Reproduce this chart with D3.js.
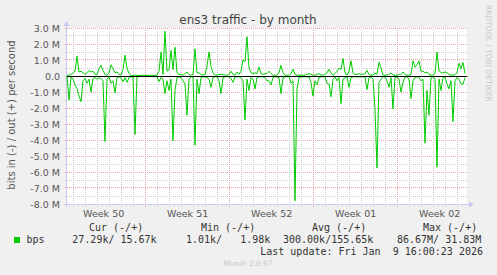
<!DOCTYPE html>
<html lang="en">
<head>
<meta charset="UTF-8">
<script src="https://d3js.org/d3.v7.min.js"></script>
<style>
  body { margin: 0; background: #f0f0f0; }
  svg text { font-family: "DejaVu Sans", sans-serif; }
  svg text.mono { font-family: "DejaVu Sans Mono", monospace; white-space: pre; }
</style>
</head>
<body>
<div id="chart"></div>
<script>
// traffic in Mbit/s, one sample every 4 hours
const outValues = [
  0.05, 0.05, 0.1, 0.2, 0.3, 1.25, 0.25, 0.3, 0.2, 0.1, 0.2, 0.35, 0.25, 0.3, 0.1, 0.1, 0.45, 0.67, 0.35, 0.1,
  0.05, 0.2, 0.7, 0.45, 0.2, 0.25, 0.1, 0.05, 0.4, 1.3, 0.5, 0.15, 0.04, 0.03, 0.05, 0.04, 0.03, 0.04, 0.05, 0.03,
  0.04, 0.03, 0.05, 0.04, 0.03, 0.05, 0.3, 1.5, 0.1, 2.8, 0.3, 0.4, 1.6, 0.4, 1.8, 0.2, 0.1, 0.1, 0.05, 0.15,
  0.25, 0.1, 0.05, 0.1, 1.7, 0.2, 0.2, 0.1, 0.05, 0.1, 0.6, 1.5, 0.6, 0.2, 0.05, 0.05, 0.1, 0.1, 0.1, 0.05,
  0.05, 0.1, 0.3, 0.1, 0.05, 0.25, 0.1, 0.3, 1.0, 0.9, 2.45, 0.5, 0.2, 0.15, 0.2, 0.15, 0.56, 0.15, 0.1, 0.15,
  0.15, 0.3, 0.15, 0.05, 0.05, 0.05, 0.2, 0.67, 0.2, 0.05, 0.05, 0.05, 0.15, 0.42, 0.1, 0.05, 0.05, 0.05, 0.05, 0.05,
  0.1, 0.15, 0.1, 0.05, 0.05, 0.1, 0.15, 0.05, 0.05, 0.1, 0.2, 0.42, 0.2, 0.05, 0.15, 0.3, 0.5, 0.4, 1.1, 0.2,
  0.05, 0.3, 0.95, 0.2, 0.1, 0.1, 0.15, 0.1, 0.1, 0.15, 0.35, 0.1, 0.05, 0.05, 0.2, 0.1, 0.85, 0.5, 0.05, 0.05,
  0.05, 0.1, 0.2, 0.05, 0.05, 0.05, 0.1, 0.1, 0.25, 0.1, 0.05, 0.05, 0.1, 0.95, 0.55, 0.7, 0.95, 0.3, 0.3, 0.2,
  0.25, 0.1, 0.05, 0.05, 0.15, 1.5, 0.35, 0.2, 0.2, 0.25, 0.2, 0.1, 0.05, 0.05, 0.1, 0.2, 0.8, 0.45, 0.85, 0.15
];
const inValues = [
  0, -1.5, -0.05, -0.2, -0.55, -0.8, -1.25, -1.6, -0.3, -0.15, -0.45, -0.2, -1.0, -0.15, -0.1, -0.2, -0.1, -0.15, -0.3, -4.1,
  -0.2, -0.05, -0.45, -0.3, -1.05, -0.1, -0.05, -0.1, -0.35, -0.1, -0.4, -0.1, -0.05, -0.05, -3.65, -0.05, -0.03, -0.04, -0.03, -0.03,
  -0.04, -0.03, -0.03, -0.04, -0.03, -0.03, -0.35, -0.1, -0.2, -1.1, -0.3, -0.9, -0.2, -4.05, -0.9, -0.1, -0.05, -0.1, -0.3, -0.5,
  -2.45, -0.2, -0.05, -0.05, -4.33, -0.2, -1.1, -0.1, -0.05, -0.05, -0.1, -0.2, -0.7, -0.1, -0.05, -0.05, -0.3, -1.1, -0.1, -0.05,
  -0.05, -0.05, -0.15, -0.4, -0.05, -0.05, -0.05, -0.1, -0.3, -2.75, -0.2, -0.9, -0.1, -0.2, -0.8, -0.1, -0.05, -0.05, -0.05, -0.1,
  -0.3, -0.3, -0.55, -0.1, -0.05, -0.05, -0.1, -1.1, -0.1, -0.05, -0.05, -0.05, -0.45, -0.3, -7.8, -0.8, -0.1, -0.05, -0.05, -0.05,
  -0.05, -0.05, -0.4, -1.25, -0.3, -0.55, -0.1, -0.05, -0.05, -0.05, -0.45, -0.5, -1.3, -0.2, -0.05, -0.3, -0.1, -1.73, -0.2, -0.1,
  -0.05, -0.7, -0.1, -0.05, -0.05, -0.05, -0.05, -0.05, -0.05, -0.05, -0.85, -0.1, -0.05, -0.2, -2.1, -5.75, -0.4, -0.2, -0.05, -0.05,
  -0.3, -0.7, -0.1, -2.05, -0.1, -0.05, -0.2, -1.0, -0.4, -0.05, -0.05, -0.2, -1.4, -0.3, -0.1, -0.05, -0.1, -0.3, -0.2, -4.2,
  -0.9, -2.45, -0.1, -0.05, -0.2, -5.7, -0.2, -0.9, -0.1, -0.05, -0.5, -0.8, -0.3, -2.85, -0.3, -0.1, -0.2, -0.5, -0.5, -0.1
];

const yTickValues = [-8, -7, -6, -5, -4, -3, -2, -1, 0, 1, 2, 3];
const weekLabels = ["Week 50", "Week 51", "Week 52", "Week 01", "Week 02"];
const weekStarts = ["2025-12-07", "2025-12-14", "2025-12-21", "2025-12-28", "2026-01-04"];

const legendHeaders = ["Cur (-/+)", "Min (-/+)", "Avg (-/+)", "Max (-/+)"];
const legendValues = ["27.29k/ 15.67k", "1.01k/   1.98k", "300.00k/155.65k", "86.67M/ 31.83M"];
const lastUpdate = "Last update: Fri Jan  9 16:00:23 2026";

const W = 497, H = 275;
const plot = { left: 67, right: 467, top: 28, bottom: 204 };

const endTime = new Date(Date.UTC(2026, 0, 9, 18, 40));
const startTime = new Date(endTime.getTime() - 400 / 12 * 864e5);
const sampleTimes = outValues.map((d, i) => d3.utcHour.offset(startTime, 4 * i));

const x = d3.scaleUtc().domain([startTime, endTime]).range([plot.left, plot.right]);
const y = d3.scaleLinear().domain([-8, 3]).range([plot.bottom, plot.top]);
const px = v => Math.floor(v) + 0.5;

const svg = d3.select('#chart').append('svg')
    .attr('width', W)
    .attr('height', H);

svg.append('rect').attr('width', W).attr('height', H).attr('fill', '#f0f0f0');
svg.append('rect')
    .attr('x', plot.left).attr('y', plot.top)
    .attr('width', plot.right - plot.left).attr('height', plot.bottom - plot.top)
    .attr('fill', '#ffffff');

// horizontal grid: minor every 0.5 M, major every 1 M
const minorY = d3.range(-7.5, 3, 1);
svg.selectAll('.hminor').data(minorY).enter().append('line')
    .attr('x1', plot.left - 2).attr('x2', plot.right + 1)
    .attr('y1', d => px(y(d))).attr('y2', d => px(y(d)))
    .attr('stroke', '#cfcfcf').attr('stroke-dasharray', '1,1');
svg.selectAll('.hmajor').data(yTickValues).enter().append('line')
    .attr('x1', plot.left - 2).attr('x2', plot.right + 1)
    .attr('y1', d => px(y(d))).attr('y2', d => px(y(d)))
    .attr('stroke', '#e4a8a8').attr('stroke-dasharray', '1,1');

// vertical grid: days and weeks
const days = d3.utcDay.range(startTime, endTime);
const weekLines = weekStarts.slice(1).map(d => new Date(d + 'T00:00:00Z'));
svg.selectAll('.vminor').data(days).enter().append('line')
    .attr('x1', d => px(x(d))).attr('x2', d => px(x(d)))
    .attr('y1', plot.top).attr('y2', plot.bottom + 3)
    .attr('stroke', '#cfcfcf').attr('stroke-dasharray', '1,1');
svg.selectAll('.vmajor').data(weekLines).enter().append('line')
    .attr('x1', d => px(x(d))).attr('x2', d => px(x(d)))
    .attr('y1', plot.top).attr('y2', plot.bottom + 3)
    .attr('stroke', '#e4a8a8').attr('stroke-dasharray', '1,1');

// axes (munin style, with arrows)
svg.append('line').attr('x1', plot.left - 1).attr('x2', plot.right + 4)
    .attr('y1', plot.bottom + 0.5).attr('y2', plot.bottom + 0.5).attr('stroke', '#c8c8f4');
svg.append('path').attr('d', `M${plot.right + 2},${plot.bottom - 2.5} L${plot.right + 7},${plot.bottom + 0.5} L${plot.right + 2},${plot.bottom + 3.5} Z`)
    .attr('fill', '#c8c8f4');
svg.append('line').attr('x1', plot.left - 0.5).attr('x2', plot.left - 0.5)
    .attr('y1', plot.bottom + 3).attr('y2', plot.top - 4).attr('stroke', '#c8c8f4');
svg.append('path').attr('d', `M${plot.left - 3.5},${plot.top - 2} L${plot.left - 0.5},${plot.top - 7} L${plot.left + 2.5},${plot.top - 2} Z`)
    .attr('fill', '#c8c8f4');

// data lines
const line = d3.line()
    .x((d, i) => x(sampleTimes[i]))
    .y(d => y(d));
svg.append('path').datum(outValues)
    .attr('d', line).attr('fill', 'none').attr('stroke', '#00cc00').attr('stroke-width', 1);
svg.append('path').datum(inValues)
    .attr('d', line).attr('fill', 'none').attr('stroke', '#00cc00').attr('stroke-width', 1);

// zero rule
svg.append('line').attr('x1', plot.left).attr('x2', plot.right)
    .attr('y1', px(y(0))).attr('y2', px(y(0)))
    .attr('stroke', '#000000');

// y tick labels
svg.selectAll('.ylab').data(yTickValues).enter().append('text')
    .attr('x', 60).attr('y', d => y(d) + 3.5)
    .attr('text-anchor', 'end')
    .attr('font-size', '9.5px').attr('fill', '#555')
    .text(d => d === 0 ? '0.0' : d3.format('.1f')(d).replace('−', '-') + ' M');

// week labels, centred mid-week
svg.selectAll('.xlab').data(weekStarts).enter().append('text')
    .attr('x', d => x(d3.utcHour.offset(new Date(d + 'T00:00:00Z'), 84)))
    .attr('y', 216.5)
    .attr('text-anchor', 'middle')
    .attr('font-size', '9.5px').attr('fill', '#555')
    .text((d, i) => weekLabels[i]);

// title and side labels
svg.append('text').attr('x', 248).attr('y', 24).attr('text-anchor', 'middle')
    .attr('font-size', '12px').attr('fill', '#444').text('ens3 traffic - by month');
svg.append('text').attr('transform', 'translate(14.5,115) rotate(-90)')
    .attr('text-anchor', 'middle').attr('font-size', '10px').attr('fill', '#555')
    .text('bits in (-) / out (+) per second');
svg.append('text').attr('transform', 'translate(485.5,5) rotate(90)')
    .attr('font-size', '7.5px').attr('fill', '#c8c8c8')
    .text('RRDTOOL / TOBI OETIKER');

// legend
const headerX = [89, 201, 312, 423];
const valueX = [72.3, 186, 283, 397];
svg.selectAll('.lh').data(legendHeaders).enter().append('text')
    .attr('class', 'mono').attr('x', (d, i) => headerX[i]).attr('y', 231)
    .attr('font-size', '10px').attr('fill', '#333').text(d => d);
svg.append('rect').attr('x', 14).attr('y', 237).attr('width', 6).attr('height', 6)
    .attr('fill', '#00cc00');
svg.append('text').attr('class', 'mono').attr('x', 26.5).attr('y', 243)
    .attr('font-size', '10px').attr('fill', '#333').text('bps');
svg.selectAll('.lv').data(legendValues).enter().append('text')
    .attr('class', 'mono').attr('x', (d, i) => valueX[i]).attr('y', 243)
    .attr('font-size', '10px').attr('fill', '#333').text(d => d);
svg.append('text').attr('class', 'mono').attr('x', 483).attr('y', 255)
    .attr('text-anchor', 'end')
    .attr('font-size', '10px').attr('fill', '#333').text(lastUpdate);
svg.append('text').attr('x', 248).attr('y', 266).attr('text-anchor', 'middle')
    .attr('font-size', '7.5px').attr('fill', '#c8c8c8').text('Munin 2.0.67');
</script>
</body>
</html>
